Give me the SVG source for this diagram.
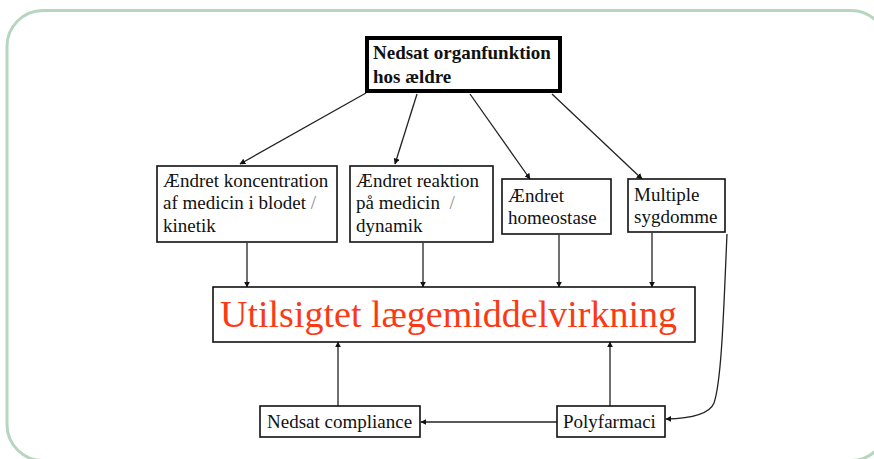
<svg xmlns="http://www.w3.org/2000/svg" width="874" height="459" viewBox="0 0 874 459">
<style>
.box{fill:#fff;stroke:#111;stroke-width:1.6}
.t{font-family:"Liberation Serif","Times New Roman",serif;font-size:19px;fill:#111}
.tb{font-family:"Liberation Serif","Times New Roman",serif;font-size:19px;font-weight:bold;fill:#111}
.big{font-family:"Liberation Serif","Times New Roman",serif;font-size:38px;fill:#fa3a14}
.sl{fill:#8a8a8a}
.c{fill:none;stroke:#222;stroke-width:1.3;marker-end:url(#ah)}
</style>
<defs>
<marker id="ah" viewBox="0 0 10 10" refX="9" refY="5" markerWidth="6" markerHeight="6" markerUnits="userSpaceOnUse" orient="auto">
<path d="M0,0 L10,5 L0,10 z" fill="#111"/>
</marker>
</defs>
<rect x="0" y="0" width="874" height="459" fill="#fff"/>
<rect x="7" y="10.5" width="880" height="450" rx="36" fill="#fff" stroke="#b6d6c0" stroke-width="3"/>

<g id="connectors">
<path class="c" d="M366,93 L240,164"/>
<path class="c" d="M417,94 L395,164"/>
<path class="c" d="M470,94 L530,179"/>
<path class="c" d="M552,94 L642,179"/>
<path class="c" d="M247,243 L247,287"/>
<path class="c" d="M423,243 L423,287"/>
<path class="c" d="M559,235 L559,287"/>
<path class="c" d="M652,233 L652,287"/>
<path class="c" d="M338,406 L338,342"/>
<path class="c" d="M610,406 L610,342"/>
<path class="c" d="M557,422 L421,422"/>
<path class="c" d="M727,234 C724,300 722,380 714,403 Q708,418 666,419"/>
</g>

<g id="n-top">
<rect x="367" y="38" width="193" height="53" fill="#fff" stroke="#000" stroke-width="4"/>
<text class="tb" x="373" y="59">Nedsat organfunktion</text>
<text class="tb" x="373" y="83">hos ældre</text>
</g>

<g id="n-kinetik">
<rect class="box" x="157" y="166" width="180" height="76"/>
<text class="t" x="163" y="187">Ændret koncentration</text>
<text class="t" x="163" y="209">af medicin i blodet <tspan class="sl">/</tspan></text>
<text class="t" x="163" y="232">kinetik</text>
</g>

<g id="n-dynamik">
<rect class="box" x="350" y="166" width="143" height="76"/>
<text class="t" x="356" y="187">Ændret reaktion</text>
<text class="t" x="356" y="209" xml:space="preserve">på medicin  <tspan class="sl">/</tspan></text>
<text class="t" x="356" y="232">dynamik</text>
</g>

<g id="n-homeostase">
<rect class="box" x="502" y="179" width="109" height="55"/>
<text class="t" x="508" y="202">Ændret</text>
<text class="t" x="508" y="224">homeostase</text>
</g>

<g id="n-sygdomme">
<rect class="box" x="628" y="179" width="97" height="53"/>
<text class="t" x="634" y="201">Multiple</text>
<text class="t" x="634" y="223">sygdomme</text>
</g>

<g id="n-main">
<rect class="box" x="213" y="287" width="482" height="55"/>
<text class="big" x="220" y="327">Utilsigtet lægemiddelvirkning</text>
</g>

<g id="n-compliance">
<rect class="box" x="260" y="406" width="160" height="31"/>
<text class="t" x="267" y="428">Nedsat compliance</text>
</g>

<g id="n-polyfarmaci">
<rect class="box" x="557" y="406" width="108" height="31"/>
<text class="t" x="563" y="428">Polyfarmaci</text>
</g>
</svg>
